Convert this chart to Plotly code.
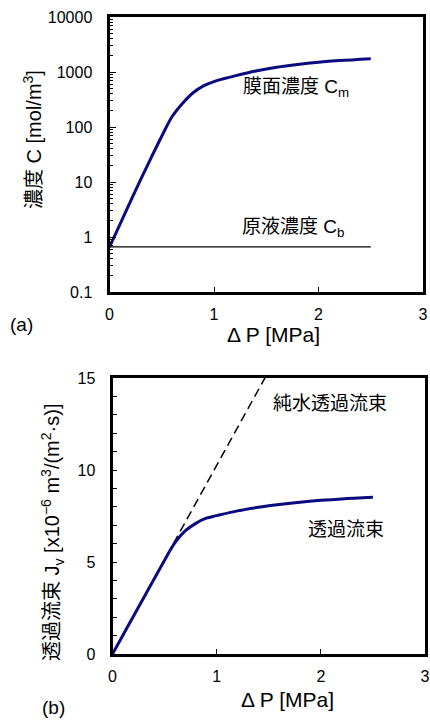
import plotly.graph_objects as go
import math

# ---- data ----
dp_cm = [0, 0.1, 0.2, 0.3, 0.4, 0.5, 0.6, 0.7, 0.8, 0.9, 1.0, 1.1, 1.2, 1.4, 1.6, 1.8, 2.0, 2.2, 2.5]
cm = [0.66, 1.7, 4.4, 11.3, 28, 68, 155, 270, 420, 560, 670, 760, 850, 1040, 1220, 1370, 1500, 1610, 1750]
dp_cb = [0, 2.5]
cb = [0.66, 0.66]

dp_jv = [0, 0.1, 0.2, 0.3, 0.4, 0.5, 0.6, 0.7, 0.8, 0.9, 1.0, 1.2, 1.4, 1.6, 1.8, 2.0, 2.2, 2.5]
jv = [0, 1.02, 2.04, 3.06, 4.08, 5.1, 6.05, 6.7, 7.1, 7.38, 7.52, 7.78, 7.97, 8.12, 8.25, 8.35, 8.43, 8.52]
dp_pw = [0, 1.5]
jw = [0, 15.38]

W, H = 430, 720
def px(x): return x / W
def py(y): return 1 - y / H

navy = "#0b0b80"
latin = "Liberation Sans, Arial, sans-serif"
mixed = "Liberation Sans, Noto Sans CJK JP, sans-serif"
tickfont = dict(family=latin, size=16, color="black")

fig = go.Figure()
fig.add_trace(go.Scatter(x=dp_cm, y=cm, mode="lines", line=dict(color=navy, width=3, shape="spline"),
                         xaxis="x", yaxis="y", showlegend=False))
fig.add_trace(go.Scatter(x=dp_cb, y=cb, mode="lines", line=dict(color="black", width=1.3),
                         xaxis="x", yaxis="y", showlegend=False))
fig.add_trace(go.Scatter(x=dp_pw, y=jw, mode="lines", line=dict(color="black", width=1.5, dash="9px,5px"),
                         xaxis="x2", yaxis="y2", showlegend=False))
fig.add_trace(go.Scatter(x=dp_jv, y=jv, mode="lines", line=dict(color=navy, width=3, shape="spline"),
                         xaxis="x2", yaxis="y2", showlegend=False))

axcommon = dict(showline=True, linecolor="black", linewidth=3, mirror=True, showgrid=False,
                zeroline=False, ticks="inside", tickcolor="black", tickfont=tickfont,
                automargin=False, ticklabeloverflow="allow")

fig.update_layout(
    width=W, height=H, margin=dict(l=0, r=0, t=0, b=0),
    paper_bgcolor="white", plot_bgcolor="white",
    xaxis=dict(domain=[px(109.5), px(423)], range=[0, 3], tickvals=[0, 1, 2, 3], ticklen=5,
               anchor="y", ticklabelstandoff=6, **axcommon),
    yaxis=dict(domain=[py(292), py(17)], type="log", range=[-1, 4],
               tickvals=[0.1, 1, 10, 100, 1000, 10000], ticktext=["0.1", "1", "10", "100", "1000", "10000"],
               ticklen=6, anchor="x", ticklabelstandoff=11,
               minor=dict(ticks="inside", ticklen=3, tickcolor="black", dtick="D1"), **axcommon),
    xaxis2=dict(domain=[px(112.5), px(425)], range=[0, 3], tickvals=[0, 1, 2, 3], ticklen=5,
                anchor="y2", ticklabelstandoff=6, **axcommon),
    yaxis2=dict(domain=[py(654), py(378)], range=[0, 15], tickvals=[0, 5, 10, 15], ticklen=4,
                anchor="x2", ticklabelstandoff=11,
                minor=dict(ticks="inside", ticklen=4, tickcolor="black", dtick=1),
                **axcommon),
)

ann = []
def A(text, x, y, size=17, rot=0, font=mixed):
    ann.append(dict(text=text, x=px(x), y=py(y), xref="paper", yref="paper", showarrow=False,
                    textangle=rot, xanchor="center", yanchor="middle",
                    font=dict(family=font, size=size, color="black")))

A("濃度 C [mol/m<sup>3</sup>]", 33, 140, size=20, rot=-90)
A("Δ P [MPa]", 273, 334, size=21, font=latin)
A("(a)", 21, 325, size=19, font=latin)
A("透過流束 J<sub>v</sub> [x10<sup>−6</sup> m<sup>3</sup>/(m<sup>2</sup>·s)]", 52, 533, size=20, rot=-90)
A("Δ P [MPa]", 287, 699, size=21, font=latin)
A("(b)", 53, 707, size=19, font=latin)

fig.update_layout(annotations=ann)

# data-positioned labels
lab = dict(family=mixed, size=19, color="black")
fig.add_annotation(text="膜面濃度 C<sub>m</sub>", x=1.78, y=math.log10(510), xref="x", yref="y",
                   showarrow=False, font=lab)
fig.add_annotation(text="原液濃度 C<sub>b</sub>", x=1.76, y=math.log10(1.45), xref="x", yref="y",
                   showarrow=False, font=lab)
fig.add_annotation(text="純水透過流束", x=2.09, y=13.6, xref="x2", yref="y2",
                   showarrow=False, font=lab)
fig.add_annotation(text="透過流束", x=2.24, y=6.74, xref="x2", yref="y2",
                   showarrow=False, font=lab)

fig.write_html("out.html", config={"displayModeBar": False},
               post_script="document.body.style.margin='0';")
